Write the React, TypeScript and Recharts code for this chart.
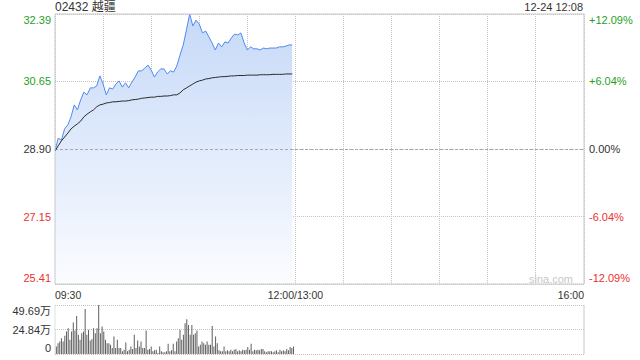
import React from 'react';
import {
  ComposedChart,
  Area,
  Line,
  XAxis,
  YAxis,
  CartesianGrid,
  ReferenceLine,
  BarChart,
  Bar,
} from 'recharts';

const stockTitle = '02432 越疆';
const timestamp = '12-24 12:08';
const watermark = 'sina.com';
const prevClose = 28.9;

const priceTicks = [25.41, 27.15, 28.9, 30.65, 32.39];
const priceLabels = ['25.41', '27.15', '28.90', '30.65', '32.39'];
const pctLabels = ['-12.09%', '-6.04%', '0.00%', '+6.04%', '+12.09%'];

const timeTicks = [0, 30, 60, 90, 120, 150, 180, 210, 240, 270, 300, 330];
const timeLabels = ['09:30', '', '', '', '', '12:00/13:00', '', '', '', '', '', '16:00'];

const priceStepMinutes = 2;
const prices = [
  28.85, 29.18, 29.13, 29.42, 29.52, 29.73, 30.04, 29.91, 30.17, 30.37,
  30.3, 30.48, 30.48, 30.53, 30.79, 30.58, 30.3, 30.48, 30.45, 30.58,
  30.66, 30.5, 30.61, 30.48, 30.63, 30.76, 30.92, 30.92, 30.99, 31.07,
  30.94, 30.76, 30.89, 30.97, 30.97, 30.84, 30.92, 30.89, 31.05, 31.33,
  31.59, 31.98, 32.39, 32.08, 32.23, 32.13, 31.9, 31.95, 31.8, 31.64,
  31.46, 31.64, 31.54, 31.67, 31.64, 31.77, 31.87, 31.85, 31.9, 31.64,
  31.46, 31.54, 31.49, 31.49, 31.46, 31.51, 31.49, 31.51, 31.51, 31.51,
  31.54, 31.54, 31.56, 31.59, 31.59,
];
const avgPrices = [
  28.85, 28.98, 29.11, 29.21, 29.31, 29.42, 29.49, 29.55, 29.62, 29.73,
  29.8, 29.86, 29.91, 29.99, 30.04, 30.06, 30.09, 30.1, 30.12, 30.12,
  30.13, 30.14, 30.14, 30.15, 30.17, 30.18, 30.19, 30.21, 30.22, 30.23,
  30.24, 30.24, 30.26, 30.26, 30.27, 30.27, 30.28, 30.3, 30.3, 30.35,
  30.43, 30.48, 30.53, 30.58, 30.63, 30.66, 30.68, 30.71, 30.72, 30.74,
  30.75, 30.76, 30.77, 30.77, 30.78, 30.79, 30.79, 30.8, 30.8, 30.8,
  30.81, 30.81, 30.81, 30.81, 30.82, 30.82, 30.82, 30.82, 30.83, 30.83,
  30.83, 30.83, 30.84, 30.84, 30.84,
];

const volumeSpanMinutes = 149;
const volumes = [
  23.8, 7.7, 11, 12.8, 16, 12.8, 18.5, 22.8, 26, 14.4,
  22.8, 31.9, 23.8, 38.6, 19.5, 14.4, 21, 22.8, 45.6, 19.5,
  24.5, 13.8, 15.1, 26.2, 21, 26.2, 49.69, 21, 27.9, 22.8,
  14.4, 11, 11, 9.4, 6, 17.8, 6, 14.4, 6, 6,
  2.7, 4.4, 11.7, 2.7, 4.4, 7.7, 5, 19.5, 6, 13.8,
  7.7, 12.8, 6, 6, 23.8, 4.4, 5, 7.7, 2.7, 3.7,
  4.4, 1, 7.7, 2.7, 1.7, 1.7, 2.7, 10.4, 2.7, 3.7,
  10.4, 2.7, 12.8, 16, 24.5, 14.4, 19.5, 31.2, 35.2, 29.5,
  19.5, 29.5, 19.5, 21, 23.8, 7.7, 9.4, 12.8, 11, 9.4,
  12.8, 9.4, 9.4, 28.5, 7.7, 17.8, 11, 3.7, 2.7, 2.7,
  7.7, 2.7, 3.7, 2.7, 4.4, 2.7, 4.4, 5, 2.7, 3.7,
  2.7, 4.4, 3.7, 4.4, 7, 4.4, 10.4, 2.7, 4.4, 3.7,
  4.4, 3.7, 5, 5, 2.7, 1.7, 2.7, 2.7, 2.7, 1.7,
  2.7, 3.7, 1.7, 4.4, 2.7, 3.7, 2.7, 5, 3.7, 7,
  6, 7.7,
];
const volumeTicks = [0, 24.84, 49.69];
const volumeLabels = ['0', '24.84万', '49.69万'];

const FONT = '"Liberation Sans", Arial, "Noto Sans CJK SC", sans-serif';
const GREEN = '#1f9f1f';
const RED = '#ee3030';
const DARK = '#333333';
const GRID = '#c4c4c4';
const BORDER = '#c8c8c8';

const priceData = prices.map((p, i) => ({
  t: i * priceStepMinutes,
  price: p,
  avg: avgPrices[i],
}));

const volumeData = volumes.map((v, i) => ({
  t: (i * volumeSpanMinutes) / (volumes.length - 1),
  vol: v,
}));

const colorFor = (v: number) => (v > prevClose + 1e-9 ? GREEN : v < prevClose - 1e-9 ? RED : DARK);

const edgeShift = (index: number, count: number) =>
  index === 0 ? -6 : index === count - 1 ? 6 : 0;

const PriceTick = (props: any) => {
  const { x, y, payload, index } = props;
  const i = priceTicks.indexOf(payload.value);
  const idx = i >= 0 ? i : index;
  return (
    <text
      x={x}
      y={y + edgeShift(idx, priceTicks.length)}
      textAnchor="end"
      dominantBaseline="central"
      fontSize={11}
      fontFamily={FONT}
      fill={colorFor(priceTicks[idx])}
    >
      {priceLabels[idx]}
    </text>
  );
};

const PctTick = (props: any) => {
  const { x, y, payload, index } = props;
  const i = priceTicks.indexOf(payload.value);
  const idx = i >= 0 ? i : index;
  return (
    <text
      x={x}
      y={y + edgeShift(idx, priceTicks.length)}
      textAnchor="start"
      dominantBaseline="central"
      fontSize={11}
      fontFamily={FONT}
      fill={colorFor(priceTicks[idx])}
    >
      {pctLabels[idx]}
    </text>
  );
};

const TimeTick = (props: any) => {
  const { x, y, payload } = props;
  const idx = timeTicks.indexOf(payload.value);
  const label = timeLabels[idx];
  if (!label) return <g />;
  const anchor = idx === 0 ? 'start' : idx === timeTicks.length - 1 ? 'end' : 'middle';
  return (
    <text
      x={x}
      y={y + 9}
      textAnchor={anchor}
      dominantBaseline="central"
      fontSize={10.5}
      fontFamily={FONT}
      fill={DARK}
    >
      {label}
    </text>
  );
};

const VolTick = (props: any) => {
  const { x, y, payload } = props;
  const idx = volumeTicks.indexOf(payload.value);
  return (
    <text
      x={x}
      y={y + edgeShift(idx, volumeTicks.length)}
      textAnchor="end"
      dominantBaseline="central"
      fontSize={11}
      fontFamily={FONT}
      fill={DARK}
    >
      {volumeLabels[idx]}
    </text>
  );
};

export default function App() {
  return (
    <div
      style={{
        position: 'absolute',
        left: 0,
        top: 0,
        width: 640,
        height: 360,
        background: '#ffffff',
        fontFamily: FONT,
        overflow: 'hidden',
      }}
    >
      <div
        style={{
          position: 'absolute',
          left: 55,
          top: 0,
          fontSize: 12,
          lineHeight: '14px',
          color: DARK,
          whiteSpace: 'nowrap',
        }}
      >
        {stockTitle}
      </div>
      <div
        style={{
          position: 'absolute',
          right: 57,
          top: 1,
          fontSize: 11,
          lineHeight: '13px',
          color: DARK,
          whiteSpace: 'nowrap',
        }}
      >
        {timestamp}
      </div>

      <div style={{ position: 'absolute', left: 0, top: 0 }}>
        <ComposedChart
          width={640}
          height={300}
          data={priceData}
          margin={{ top: 14, right: 0, bottom: 0, left: 0 }}
        >
          <defs>
            <linearGradient id="priceFill" x1="0" y1="0" x2="0" y2="1">
              <stop offset="0%" stopColor="#c6d9f8" stopOpacity={1} />
              <stop offset="100%" stopColor="#fbfcff" stopOpacity={1} />
            </linearGradient>
          </defs>
          <CartesianGrid
            yAxisId="left"
            stroke={GRID}
            strokeDasharray="1 1"
            shapeRendering="crispEdges"
          />
          <XAxis
            dataKey="t"
            type="number"
            domain={[0, 330]}
            ticks={timeTicks}
            interval={0}
            tick={TimeTick}
            tickLine={false}
            tickSize={0}
            axisLine={{ stroke: BORDER }}
            height={16}
            allowDataOverflow
          />
          <YAxis
            yAxisId="left"
            type="number"
            domain={[25.41, 32.39]}
            ticks={priceTicks}
            interval={0}
            tick={PriceTick}
            tickLine={false}
            tickSize={0}
            tickMargin={4}
            axisLine={{ stroke: BORDER }}
            width={55}
            allowDataOverflow
          />
          <YAxis
            yAxisId="right"
            orientation="right"
            type="number"
            domain={[25.41, 32.39]}
            ticks={priceTicks}
            interval={0}
            tick={PctTick}
            tickLine={false}
            tickSize={0}
            tickMargin={5}
            axisLine={{ stroke: BORDER }}
            width={56}
            allowDataOverflow
          />
          <ReferenceLine yAxisId="left" y={32.39} stroke={BORDER} />
          <Area
            yAxisId="left"
            type="linear"
            dataKey="price"
            baseValue={25.41}
            stroke="#4f8bef"
            strokeWidth={1}
            fill="url(#priceFill)"
            fillOpacity={1}
            dot={false}
            activeDot={false}
            isAnimationActive={false}
          />
          <ReferenceLine
            yAxisId="left"
            y={28.9}
            stroke="#a8a8a8"
            strokeDasharray="3 2"
            shapeRendering="crispEdges"
          />
          <Line
            yAxisId="left"
            type="linear"
            dataKey="avg"
            stroke="#2b2b2b"
            strokeWidth={1}
            dot={false}
            activeDot={false}
            isAnimationActive={false}
          />
          <Line
            yAxisId="right"
            type="linear"
            dataKey="price"
            stroke="none"
            dot={false}
            activeDot={false}
            isAnimationActive={false}
          />
        </ComposedChart>
      </div>

      <div
        style={{
          position: 'absolute',
          right: 67,
          top: 272,
          fontSize: 11,
          lineHeight: '14px',
          color: '#c8c8c8',
          whiteSpace: 'nowrap',
        }}
      >
        {watermark}
      </div>

      <div style={{ position: 'absolute', left: 0, top: 300 }}>
        <BarChart
          width={640}
          height={60}
          data={volumeData}
          margin={{ top: 5, right: 56, bottom: 6, left: 0 }}
          barCategoryGap={0}
        >
          <CartesianGrid
            vertical={false}
            stroke={GRID}
            strokeDasharray="1 1"
            shapeRendering="crispEdges"
          />
          <XAxis dataKey="t" type="number" domain={[0, 330]} hide allowDataOverflow />
          <YAxis
            type="number"
            domain={[0, 49.69]}
            ticks={volumeTicks}
            interval={0}
            tick={VolTick}
            tickLine={false}
            tickSize={0}
            tickMargin={4}
            axisLine={{ stroke: '#e0e0e0' }}
            width={55}
            allowDataOverflow
          />
          <ReferenceLine x={330} stroke={BORDER} />
          <Bar dataKey="vol" fill="#5e5e5e" barSize={1} isAnimationActive={false} />
        </BarChart>
      </div>
    </div>
  );
}
